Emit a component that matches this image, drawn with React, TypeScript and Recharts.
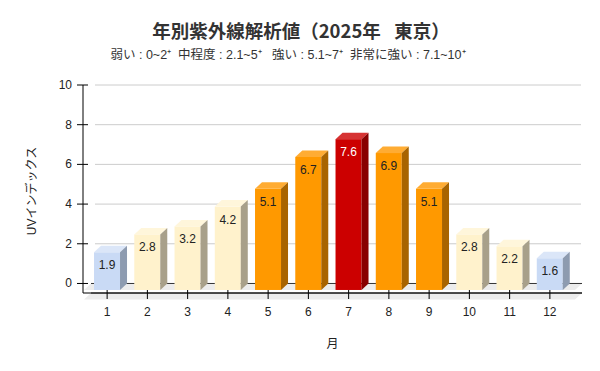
import { BarChart, Bar, XAxis, YAxis, CartesianGrid, Label } from "recharts";

const MONTHS = ["1", "2", "3", "4", "5", "6", "7", "8", "9", "10", "11", "12"];
const UV_VALUES = [1.9, 2.8, 3.2, 4.2, 5.1, 6.7, 7.6, 6.9, 5.1, 2.8, 2.2, 1.6];
const Y_TICKS = [0, 2, 4, 6, 8, 10];

// colour bands by UV level (upper bound inclusive)
const LEVELS = [
  { max: 2, front: "#c9daf5", side: "#8d9bb0", top: "#dbe6f8", text: "#222" },
  { max: 5, front: "#fff2cc", side: "#a8a08a", top: "#fff6db", text: "#222" },
  { max: 7, front: "#ff9900", side: "#a86400", top: "#ffac33", text: "#222" },
  { max: 99, front: "#cc0000", side: "#880000", top: "#d63333", text: "#fff" },
];

const FONT = '"Liberation Sans", Arial, "Noto Sans CJK JP", sans-serif';
const TEXT = "#222";
const GRID = "#cccccc";

// 3D depth of bars and floor
const DX = 7;
const DY = 6.5;
const FACE_W = 26;

const AXIS_X = 83;
const AXIS_Y = 293;
const PLOT_RIGHT = 582;

const data = MONTHS.map((m, i) => ({ month: m, uv: UV_VALUES[i] }));

function levelOf(v: number) {
  return LEVELS.find((l) => v <= l.max) ?? LEVELS[LEVELS.length - 1];
}

function Bar3D(props: any) {
  const { x, y, width, height, payload } = props;
  const c = levelOf(payload.uv);
  const cx = x + width / 2;
  const l = cx - FACE_W / 2;
  const r = cx + FACE_W / 2;
  const top = y + DY;
  const bottom = y + height + DY;
  return (
    <g>
      <rect x={l} y={top} width={FACE_W} height={bottom - top} fill={c.front} />
      <polygon
        points={`${l},${top} ${l + DX},${top - DY} ${r + DX},${top - DY} ${r},${top}`}
        fill={c.top}
      />
      <polygon
        points={`${r},${top} ${r + DX},${top - DY} ${r + DX},${bottom - DY} ${r},${bottom}`}
        fill={c.side}
      />
      <text
        x={cx}
        y={top + 13}
        textAnchor="middle"
        dominantBaseline="central"
        fontSize={12}
        fontFamily={FONT}
        fill={c.text}
      >
        {payload.uv}
      </text>
    </g>
  );
}

function GridLine(props: any) {
  const { y1, index } = props;
  if (y1 > 280) {
    // back floor line plus the grey floor
    return (
      <g key={`g-${index}`}>
        <polygon
          points={`${AXIS_X + 1},${y1 + DY} ${AXIS_X + 1 + DX},${y1} ${PLOT_RIGHT},${y1} ${PLOT_RIGHT - DX},${y1 + DY}`}
          fill="#ececec"
        />
        <line x1={AXIS_X + 1 + DX} x2={PLOT_RIGHT} y1={y1} y2={y1} stroke="#333" />
      </g>
    );
  }
  return (
    <line key={`g-${index}`} x1={95} x2={PLOT_RIGHT - 1} y1={y1} y2={y1} stroke={GRID} />
  );
}

function YTick(props: any) {
  const { y, payload } = props;
  return (
    <g>
      <line x1={AXIS_X - 6} x2={AXIS_X + 5} y1={y} y2={y} stroke="#000" />
      <text
        x={AXIS_X - 11}
        y={y}
        textAnchor="end"
        dominantBaseline="central"
        fontSize={12}
        fontFamily={FONT}
        fill={TEXT}
      >
        {payload.value}
      </text>
    </g>
  );
}

function XTick(props: any) {
  const { x, payload } = props;
  return (
    <g>
      <line x1={x} x2={x} y1={AXIS_Y - 3} y2={AXIS_Y + 6} stroke="#000" />
      <text
        x={x}
        y={AXIS_Y + 19}
        textAnchor="middle"
        dominantBaseline="central"
        fontSize={12}
        fontFamily={FONT}
        fill={TEXT}
      >
        {payload.value}
      </text>
    </g>
  );
}

export default function App() {
  return (
    <div
      style={{
        position: "fixed",
        left: 0,
        top: 0,
        width: 600,
        height: 371,
        background: "#fff",
        fontFamily: FONT,
        color: "#333",
      }}
    >
      <div
        style={{
          position: "absolute",
          left: 0,
          top: 19,
          width: 602,
          textAlign: "center",
          fontSize: 18.5,
          fontWeight: "bold",
          lineHeight: "22px",
          whiteSpace: "pre",
          fontFamily: '"Noto Sans CJK JP", sans-serif',
          color: "#333",
        }}
      >
        {"年別紫外線解析値（2025年\u2002 東京）"}
      </div>
      <div
        style={{
          position: "absolute",
          left: 0,
          top: 48,
          width: 576,
          textAlign: "center",
          fontSize: 12.5,
          lineHeight: "15px",
          whiteSpace: "pre",
          color: "#333",
        }}
      >
        {"弱い : 0~2⁺  中程度 : 2.1~5⁺   強い : 5.1~7⁺  非常に強い : 7.1~10⁺"}
      </div>
      <div
        style={{
          position: "absolute",
          left: 30,
          top: 191,
          transform: "translate(-50%, -50%) rotate(-90deg)",
          whiteSpace: "nowrap",
          fontSize: 12,
          color: TEXT,
        }}
      >
        UVインデックス
      </div>
      <BarChart
        width={600}
        height={371}
        data={data}
        margin={{ top: 85, right: 600 - PLOT_RIGHT, bottom: 48, left: 23 }}
        style={{ position: "absolute", left: 0, top: 0 }}
      >
        <CartesianGrid vertical={false} horizontal={GridLine} />
        <XAxis
          dataKey="month"
          height={30}
          padding={{ left: 4, right: 12 }}
          axisLine={{ stroke: "#000" }}
          tickLine={false}
          tick={XTick}
          interval={0}
        >
          <Label
            value="月"
            position="bottom"
            offset={16}
            fontSize={12}
            fill={TEXT}
          />
        </XAxis>
        <YAxis
          width={60}
          domain={[-0.48, 10]}
          ticks={Y_TICKS}
          axisLine={{ stroke: "#000" }}
          tickLine={false}
          tick={YTick}
          interval={0}
        />
        <Bar dataKey="uv" isAnimationActive={false} shape={Bar3D} />
      </BarChart>
    </div>
  );
}
